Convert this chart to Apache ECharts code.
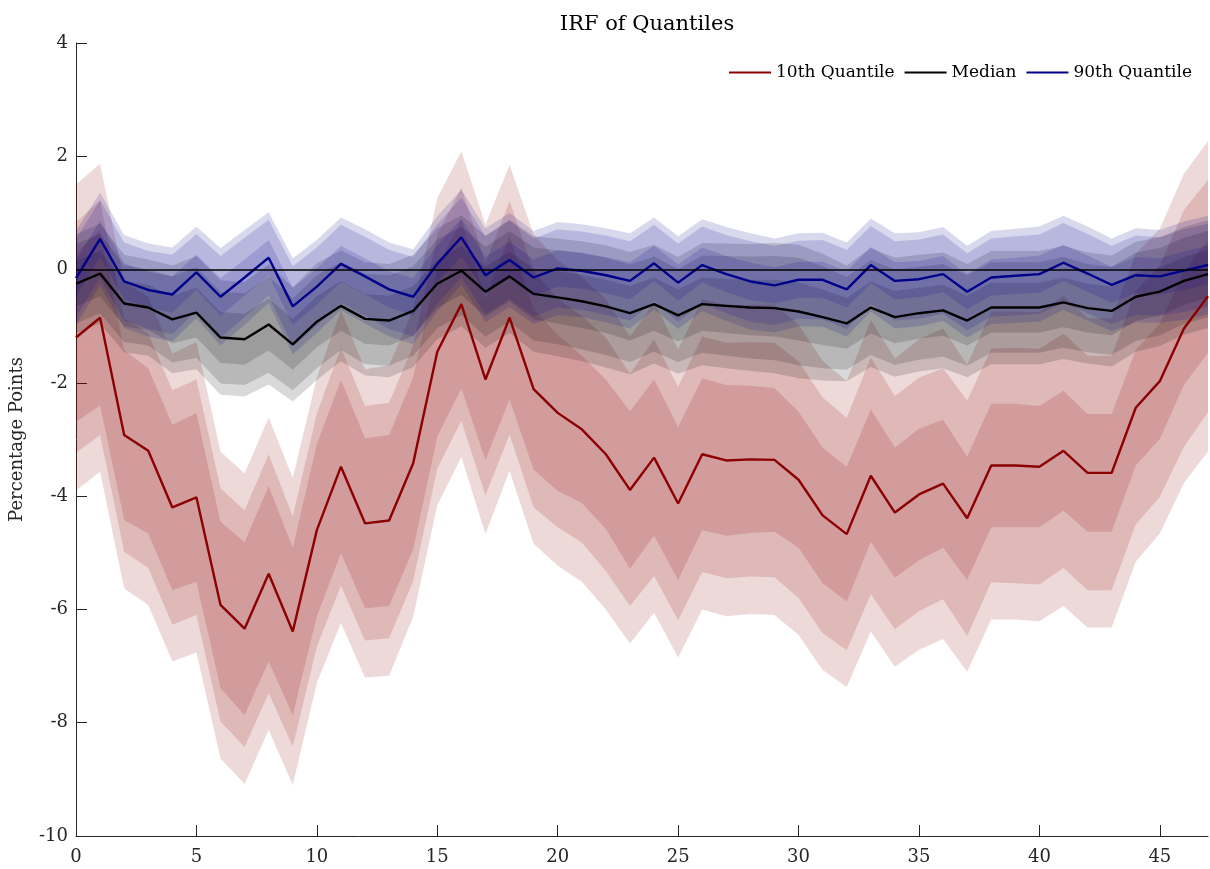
<!DOCTYPE html>
<html>
<head>
<meta charset="utf-8">
<title>IRF of Quantiles</title>
<script src="https://cdn.jsdelivr.net/npm/echarts@6/dist/echarts.min.js"></script>
<style>
  html, body { margin: 0; padding: 0; background: #ffffff; }
  #chart { width: 1210px; height: 869px; }
</style>
</head>
<body>
<div id="chart"></div>
<script>
// Horizon (periods after the shock)
const horizon = [0,1,2,3,4,5,6,7,8,9,10,11,12,13,14,15,16,17,18,19,20,21,22,23,
                 24,25,26,27,28,29,30,31,32,33,34,35,36,37,38,39,40,41,42,43,44,45,46,47];
const xTickValues = [0,5,10,15,20,25,30,35,40,45];

// 10th quantile response and half-widths of its three confidence bands
const q10 = [-1.20,-0.85,-2.92,-3.20,-4.20,-4.02,-5.92,-6.34,-5.37,-6.39,-4.60,-3.48,
             -4.48,-4.43,-3.42,-1.45,-0.61,-1.94,-0.85,-2.11,-2.53,-2.82,-3.26,-3.89,
             -3.32,-4.13,-3.26,-3.37,-3.35,-3.36,-3.71,-4.34,-4.67,-3.64,-4.29,-3.97,
             -3.78,-4.39,-3.46,-3.46,-3.48,-3.20,-3.59,-3.59,-2.44,-1.97,-1.04,-0.47];
const q10Inner = [1.49,1.55,1.50,1.46,1.46,1.49,1.47,1.53,1.55,1.48,1.52,1.53,
                  1.50,1.51,1.52,1.50,1.49,1.42,1.45,1.42,1.38,1.30,1.32,1.39,
                  1.38,1.35,1.34,1.33,1.30,1.27,1.20,1.20,1.19,1.17,1.15,1.16,
                  1.13,1.09,1.09,1.09,1.07,1.06,1.04,1.04,1.02,1.02,1.00,1.00];
const q10Mid = [2.04,2.07,2.06,2.07,2.07,2.08,2.06,2.09,2.11,2.03,2.06,2.10,
                2.07,2.08,2.08,2.06,2.06,2.05,2.06,2.09,2.02,2.00,2.06,2.05,
                2.09,2.06,2.08,2.08,2.07,2.07,2.09,2.08,2.05,2.09,2.06,2.06,
                2.04,2.08,2.06,2.08,2.08,2.07,2.07,2.07,2.06,2.04,2.09,2.05];
const q10Outer = [2.70,2.72,2.71,2.72,2.72,2.74,2.71,2.74,2.76,2.71,2.70,2.76,
                  2.72,2.74,2.71,2.71,2.70,2.73,2.70,2.73,2.70,2.69,2.74,2.71,
                  2.74,2.72,2.74,2.75,2.73,2.74,2.74,2.73,2.70,2.75,2.72,2.74,
                  2.74,2.71,2.72,2.72,2.73,2.74,2.73,2.73,2.72,2.69,2.73,2.74];

// Median response and band half-widths
const q50 = [-0.25,-0.07,-0.60,-0.67,-0.88,-0.76,-1.20,-1.23,-0.97,-1.32,-0.92,-0.64,
             -0.87,-0.90,-0.73,-0.25,-0.02,-0.39,-0.12,-0.43,-0.49,-0.56,-0.65,-0.77,
             -0.61,-0.81,-0.61,-0.64,-0.67,-0.68,-0.74,-0.84,-0.95,-0.67,-0.84,-0.77,
             -0.72,-0.90,-0.67,-0.67,-0.67,-0.58,-0.68,-0.73,-0.48,-0.39,-0.20,-0.08];
const q50Inner = [0.40,0.40,0.40,0.40,0.42,0.44,0.45,0.45,0.46,0.45,0.45,0.44,
                  0.44,0.44,0.44,0.43,0.43,0.44,0.44,0.45,0.46,0.47,0.47,0.48,
                  0.47,0.46,0.47,0.48,0.49,0.50,0.51,0.49,0.45,0.46,0.46,0.45,
                  0.45,0.44,0.44,0.44,0.44,0.44,0.43,0.43,0.43,0.42,0.42,0.42];
const q50Mid = [0.70,0.70,0.68,0.67,0.76,0.80,0.81,0.81,0.85,0.81,0.82,0.78,
                0.80,0.80,0.79,0.78,0.78,0.79,0.80,0.82,0.83,0.85,0.86,0.86,
                0.84,0.82,0.86,0.88,0.90,0.92,0.95,0.90,0.82,0.84,0.84,0.82,
                0.82,0.80,0.80,0.80,0.80,0.80,0.78,0.78,0.78,0.77,0.76,0.76];
const q50Outer = [0.88,0.88,0.86,0.85,0.95,1.00,1.01,1.01,1.06,1.01,1.03,0.98,
                  1.00,1.00,0.99,0.98,0.98,0.99,1.00,1.02,1.04,1.06,1.08,1.08,
                  1.05,1.03,1.08,1.10,1.12,1.15,1.18,1.12,1.02,1.05,1.05,1.03,
                  1.02,1.00,1.00,1.00,1.00,1.00,0.98,0.98,0.97,0.96,0.95,0.95];

// 90th quantile response and band half-widths
const q90 = [-0.15, 0.54,-0.21,-0.36,-0.44,-0.05,-0.48,-0.14, 0.21,-0.65,-0.30, 0.10,
             -0.12,-0.35,-0.48, 0.10, 0.57,-0.10, 0.17,-0.14, 0.02,-0.02,-0.10,-0.20,
              0.11,-0.23, 0.08,-0.08,-0.21,-0.28,-0.18,-0.18,-0.35, 0.08,-0.20,-0.17,
             -0.08,-0.39,-0.14,-0.11,-0.08, 0.12,-0.07,-0.27,-0.10,-0.12,-0.02, 0.08];
const q90Inner = [0.32,0.32,0.32,0.32,0.32,0.31,0.33,0.32,0.31,0.33,0.32,0.32,
                  0.32,0.32,0.33,0.33,0.33,0.32,0.32,0.32,0.32,0.32,0.32,0.33,
                  0.31,0.32,0.31,0.32,0.33,0.32,0.32,0.32,0.32,0.32,0.33,0.32,
                  0.32,0.31,0.32,0.32,0.33,0.32,0.32,0.32,0.32,0.32,0.34,0.34];
const q90Mid = [0.69,0.69,0.69,0.69,0.70,0.68,0.72,0.70,0.67,0.71,0.69,0.69,
                0.70,0.70,0.70,0.70,0.70,0.69,0.69,0.69,0.69,0.69,0.70,0.70,
                0.68,0.69,0.68,0.69,0.71,0.70,0.69,0.70,0.70,0.69,0.70,0.70,
                0.70,0.68,0.69,0.70,0.70,0.70,0.70,0.69,0.70,0.69,0.73,0.73];
const q90Outer = [0.83,0.82,0.82,0.82,0.83,0.81,0.86,0.84,0.80,0.85,0.82,0.82,
                  0.83,0.83,0.84,0.84,0.84,0.83,0.83,0.82,0.82,0.82,0.83,0.84,
                  0.81,0.82,0.81,0.83,0.85,0.83,0.82,0.83,0.83,0.82,0.84,0.83,
                  0.83,0.81,0.82,0.83,0.84,0.83,0.83,0.82,0.83,0.82,0.87,0.87];

const FONT = 'DejaVu Serif';
const AXIS_COLOR = '#262626';

// A shaded band centre ± halfWidth, drawn as one polygon through the axis scales
function band(center, halfWidth, fill) {
  return {
    type: 'custom',
    coordinateSystem: 'cartesian2d',
    silent: true,
    data: horizon.map((h, i) => [h, center[i] - halfWidth[i], center[i] + halfWidth[i]]),
    encode: { x: 0, y: [1, 2] },
    renderItem: function (params, api) {
      if (params.dataIndex !== 0) return null;
      const upper = [], lower = [];
      for (let i = 0; i < horizon.length; i++) {
        upper.push(api.coord([horizon[i], center[i] + halfWidth[i]]));
        lower.push(api.coord([horizon[i], center[i] - halfWidth[i]]));
      }
      return {
        type: 'polygon',
        shape: { points: upper.concat(lower.reverse()) },
        style: { fill: fill, stroke: null }
      };
    }
  };
}

function line(name, values, color, extra) {
  return Object.assign({
    name: name,
    type: 'line',
    data: horizon.map((h, i) => [h, values[i]]),
    showSymbol: false,
    symbol: 'none',
    lineStyle: { color: color, width: 2.4 },
    itemStyle: { color: color },
    silent: true
  }, extra || {});
}

const red = '#8b0000', black = '#000000', blue = '#00008b';
const redFill = 'rgba(139,0,0,0.15)';
const greyFill = 'rgba(0,0,0,0.15)';
const blueFill = 'rgba(0,0,139,0.15)';

const chart = echarts.init(document.getElementById('chart'), null, { renderer: 'canvas' });
chart.setOption({
  animation: false,
  backgroundColor: '#ffffff',
  title: {
    text: 'IRF of Quantiles',
    left: 642,
    top: 9,
    textAlign: 'center',
    textStyle: { fontFamily: FONT, fontSize: 21, fontWeight: 'normal', color: '#000' }
  },
  legend: {
    data: ['10th Quantile', 'Median', '90th Quantile'],
    right: 13,
    top: 59,
    icon: 'rect',
    itemWidth: 42,
    itemHeight: 2,
    itemGap: 10,
    textStyle: { fontFamily: FONT, fontSize: 17, color: '#000' }
  },
  grid: { left: 76, right: 2, top: 43, bottom: 33, containLabel: false },
  xAxis: {
    type: 'value',
    min: 0,
    max: 47,
    interval: 5,
    axisLine: { show: true, onZero: false, lineStyle: { color: AXIS_COLOR, width: 1 } },
    axisTick: { show: true, inside: true, length: 11, customValues: xTickValues,
                lineStyle: { color: AXIS_COLOR } },
    axisLabel: { customValues: xTickValues, margin: 12, fontFamily: FONT, fontSize: 18,
                 color: AXIS_COLOR },
    splitLine: { show: false }
  },
  yAxis: {
    type: 'value',
    min: -10,
    max: 4,
    interval: 2,
    name: 'Percentage Points',
    nameLocation: 'middle',
    nameGap: 50,
    nameTextStyle: { fontFamily: FONT, fontSize: 18, color: AXIS_COLOR },
    axisLine: { show: true, onZero: false, lineStyle: { color: AXIS_COLOR, width: 1 } },
    axisTick: { show: true, inside: true, length: 11, lineStyle: { color: AXIS_COLOR } },
    axisLabel: { margin: 8, fontFamily: FONT, fontSize: 18, color: AXIS_COLOR },
    splitLine: { show: false }
  },
  series: [
    band(q10, q10Outer, redFill),
    band(q10, q10Mid, redFill),
    band(q10, q10Inner, redFill),
    band(q50, q50Outer, greyFill),
    band(q50, q50Mid, greyFill),
    band(q50, q50Inner, greyFill),
    band(q90, q90Outer, blueFill),
    band(q90, q90Mid, blueFill),
    band(q90, q90Inner, blueFill),
    line('10th Quantile', q10, red),
    line('Median', q50, black),
    line('90th Quantile', q90, blue, {
      markLine: {
        silent: true,
        symbol: 'none',
        label: { show: false },
        lineStyle: { color: '#000', width: 1.6, type: 'solid' },
        data: [{ yAxis: 0 }]
      }
    })
  ]
});
</script>
</body>
</html>
